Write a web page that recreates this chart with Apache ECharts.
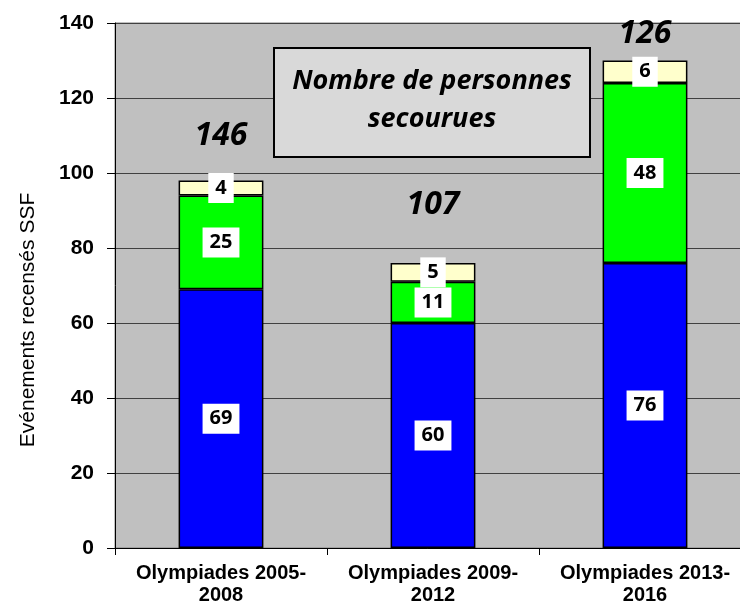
<!DOCTYPE html>
<html>
<head>
<meta charset="utf-8">
<script src="https://cdn.jsdelivr.net/npm/echarts@6/dist/echarts.min.js"></script>
<style>
  html, body { margin: 0; padding: 0; background: #fff; }
  #chart { width: 740px; height: 603px; }
</style>
</head>
<body>
<div id="chart"></div>
<script>
// categories and values
const categories = ["Olympiades 2005-\n2008", "Olympiades 2009-\n2012", "Olympiades 2013-\n2016"];
const blueValues = [69, 60, 76];
const greenValues = [25, 11, 48];
const yellowValues = [4, 5, 6];
// annotated totals (as written on the chart) and the height where they sit
const totalLabels = [146, 107, 126];
const totalHeights = [110, 91.5, 137];
const yTicks = [0, 20, 40, 60, 80, 100, 120, 140];

const chart = echarts.init(document.getElementById("chart"));

const boxLabel = {
  show: true,
  position: "inside",
  backgroundColor: "#fff",
  color: "#000",
  fontFamily: "Open Sans",
  fontWeight: "bold",
  fontSize: 20,
  padding: [6, 7, 4, 7]
};

function barSeries(name, data, color) {
  return {
    name: name,
    type: "bar",
    stack: "total",
    barWidth: "40%",
    data: data,
    itemStyle: { color: color, borderColor: "#000", borderWidth: 1.5 },
    label: boxLabel
  };
}

const option = {
  animation: false,
  grid: {
    show: true,
    left: 115,
    top: 23,
    width: 636,   // plot runs a little past the right edge, like the original
    height: 525,
    outerBoundsMode: "none",
    backgroundColor: "#c0c0c0",
    borderColor: "#808080",
    borderWidth: 1
  },
  xAxis: {
    type: "category",
    data: categories,
    axisLine: { lineStyle: { color: "#000", width: 1 } },
    axisTick: { show: true, length: 7, lineStyle: { color: "#000" } },
    axisLabel: {
      interval: 0,
      color: "#000",
      fontFamily: "Liberation Sans",
      fontWeight: "bold",
      fontSize: 20,
      lineHeight: 22,
      margin: 14
    }
  },
  yAxis: {
    type: "value",
    min: 0,
    max: 140,
    interval: 20,
    axisLine: { show: true, lineStyle: { color: "#000", width: 1 } },
    axisTick: { show: true, length: 8, lineStyle: { color: "#000" } },
    splitLine: { lineStyle: { color: "#404040", width: 1 } },
    axisLabel: {
      color: "#000",
      fontFamily: "Liberation Sans",
      fontWeight: "bold",
      fontSize: 21,
      margin: 21,
      formatter: v => yTicks.includes(v) ? String(v) : ""
    }
  },
  series: [
    barSeries("bleu", blueValues, "#0000ff"),
    barSeries("vert", greenValues, "#00ff00"),
    barSeries("jaune", yellowValues, "#ffffcc"),
    {
      type: "scatter",
      symbolSize: 0,
      itemStyle: { color: "#000", opacity: 1 },
      data: totalHeights.map((h, i) => [i, h]),
      label: {
        show: true,
        position: "inside",
        color: "#000",
        opacity: 1,
        fontFamily: "Open Sans",
        fontWeight: "bold",
        fontStyle: "italic",
        fontSize: 32,
        formatter: p => String(totalLabels[p.dataIndex])
      },
      z: 5
    }
  ],
  graphic: [
    {
      type: "rect",
      shape: { x: 274, y: 48, width: 316, height: 109 },
      style: { fill: "#d9d9d9", stroke: "#000", lineWidth: 2 },
      z: 10
    },
    {
      type: "text",
      x: 432,
      y: 100,
      style: {
        text: "Nombre de personnes\nsecourues",
        fill: "#000",
        font: "italic bold 27px 'Open Sans'",
        lineHeight: 38,
        align: "center",
        verticalAlign: "middle"
      },
      z: 11
    },
    {
      type: "text",
      x: 28,
      y: 320,
      rotation: Math.PI / 2,
      style: {
        text: "Evénements recensés SSF",
        fill: "#000",
        font: "21px 'Liberation Sans'",
        align: "center",
        verticalAlign: "middle"
      }
    }
  ]
};

chart.setOption(option);
</script>
</body>
</html>
